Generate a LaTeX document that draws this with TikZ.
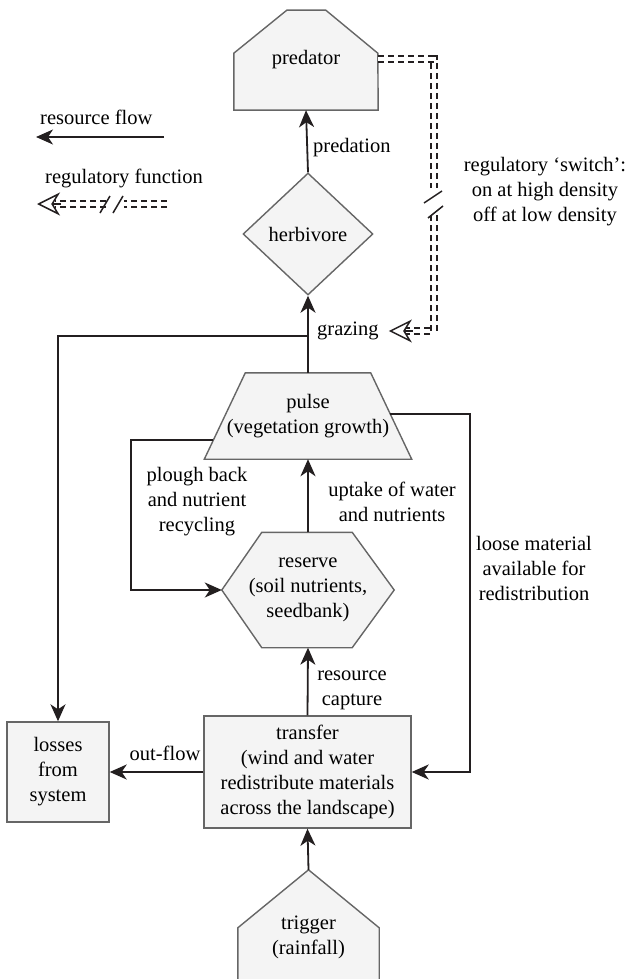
\documentclass[tikz,border=0pt]{standalone}
\usepackage{fontspec}
\setmainfont{Liberation Serif}
\usetikzlibrary{arrows.meta,calc,positioning,shapes.geometric}
\definecolor{boxgray}{HTML}{F4F4F4}
\definecolor{edgegray}{HTML}{666666}
\definecolor{inkblack}{HTML}{231F20}
\pgfdeclarelayer{background}
\pgfsetlayers{background,main}

\begin{document}
\begin{tikzpicture}[
  x=1pt,y=-1pt,
  font=\fontsize{20.5pt}{25pt}\selectfont,
  >={Stealth[length=17pt,width=15pt,inset=5pt]},
  line/.style={->,line width=1.8pt,draw=inkblack},
  outline/.style={draw=edgegray,fill=boxgray,line width=1.4pt},
  holder/.style={inner sep=0pt,align=center},
  box/.style={outline,inner sep=0pt,align=center},
  reg/.style={draw=inkblack,line width=1.6pt,double=white,
              double distance=4.6pt,dash pattern=on 6pt off 4pt},
  regtip/.style={-{Stealth[open,length=23pt,width=23pt,inset=7pt]},
                 line width=1.5pt,draw=inkblack},
  slash/.style={line width=1.5pt,draw=inkblack},
  lbl/.style={align=center,inner sep=0pt}
]
\useasboundingbox (0,0) rectangle (630,979);

% compartments
\node[holder,minimum width=144pt,minimum height=100pt] (predator) at (306,60) {predator};
\node[box,diamond,minimum width=130pt,minimum height=122pt] (herbivore) at (308,234) {herbivore};
\node[holder,minimum width=207pt,minimum height=86pt] (pulse) at (308,416)
  {pulse\\(vegetation growth)};
\node[holder,minimum width=172pt,minimum height=115pt] (reserve) at (308,590)
  {reserve\\(soil nutrients,\\seedbank)};
\node[box,minimum width=207pt,minimum height=112pt] (transfer) at (307.5,772)
  {transfer\\(wind and water\\redistribute materials\\across the landscape)};
\node[box,minimum width=102pt,minimum height=100pt] (losses) at (58,772)
  {losses\\from\\system};
\node[holder,minimum width=141pt,minimum height=134pt] (trigger) at (308.5,937)
  {trigger\\(rainfall)};

\coordinate (pulseTL) at ($(pulse.north west)+(41,0)$);
\coordinate (pulseTR) at ($(pulse.north east)+(-41,0)$);

\begin{pgfonlayer}{background}
\draw[outline] (predator.south west) -- ++(0,-57) -- ++(53,-43) -- ++(39,0)
  -- ++(52,43) -- (predator.south east) -- cycle;
\draw[outline] (pulse.south west) -- (pulseTL) -- (pulseTR)
  -- (pulse.south east) -- cycle;
\draw[outline] (reserve.west) -- ($(reserve.north west)+(40,0)$)
  -- ($(reserve.north east)+(-42,0)$) -- (reserve.east)
  -- ($(reserve.south east)+(-42,0)$) -- ($(reserve.south west)+(40,0)$) -- cycle;
\draw[outline] (trigger.south west) -- ($(trigger.north west)+(0,58)$)
  -- (trigger.north) -- ($(trigger.north east)+(0,58)$)
  -- (trigger.south east) -- cycle;
\end{pgfonlayer}

% labels
\node[lbl,anchor=west] (predlbl) at (313,148) {predation};
\node[lbl,anchor=west] (grazing) at (317,331) {grazing};
\node[lbl] (switchlbl) at (545,192) {regulatory ‘switch’:\\on at high density\\off at low density};
\node[lbl] (ploughlbl) at (197,502) {plough back\\and nutrient\\recycling};
\node[lbl] (uptakelbl) at (392,502) {uptake of water\\and nutrients};
\node[lbl] (looselbl) at (534,568) {loose material\\available for\\redistribution};
\node[lbl] (capturelbl) at (352,690) {resource\\capture};
\node[lbl] (outflowlbl) at (165,753) {out-flow};
\node[lbl,anchor=west] (flowkey) at (40,117) {resource flow};
\node[lbl,anchor=west] (regkey) at (45,178) {regulatory function};

% key
\coordinate (flowA) at (164,137);
\coordinate (flowB) at (36,137);
\coordinate (keyA) at (167,204);
\coordinate (keyB) at (124,204);
\coordinate (keyC) at (106,204);
\coordinate (keyD) at (37,204);
\draw[line] (flowA) -- (flowB);
\draw[reg] (keyA) -- (keyB);
\draw[reg] (keyC) -- ($(keyD)+(18,0)$);
\draw[regtip] ($(keyD)+(24,0)$) -- (keyD);
\draw[slash] (100,213) -- (110,196);
\draw[slash] (113,213) -- (123,196);

% resource flows
\coordinate (split) at (308,336);
\coordinate (ploughstart) at ($(pulse.south west)!0.22!(pulseTL)$);
\coordinate (loosestart) at ($(pulse.south east)!0.52!(pulseTR)$);
\draw[line] (herbivore.north) -- (predator.south);
\draw[line] (pulse.north) -- (herbivore.south);
\draw[line] (split) -| (losses.north);
\draw[line] (loosestart) -- ++(80,0) |- (transfer.east);
\draw[line] (ploughstart) -- ++(-82,0) |- (reserve.west);
\draw[line] (reserve.north) -- (pulse.south);
\draw[line] (transfer.north) -- (reserve.south);
\draw[line] (transfer.west) -- (losses.east);
\draw[line] (trigger.north) -- (transfer.south);

% regulatory switch
\coordinate (cutA) at (434,188);
\coordinate (cutB) at (434,215);
\draw[reg] ([yshift=1pt]predator.east) -| (cutA);
\draw[reg] (cutB) |- ($(grazing.east)+(27,0)$);
\draw[regtip] ($(grazing.east)+(34,0)$) -- ($(grazing.east)+(10,0)$);
\draw[slash] (424,203) -- (442,191);
\draw[slash] (428,218) -- (443,206);
\end{tikzpicture}
\end{document}
